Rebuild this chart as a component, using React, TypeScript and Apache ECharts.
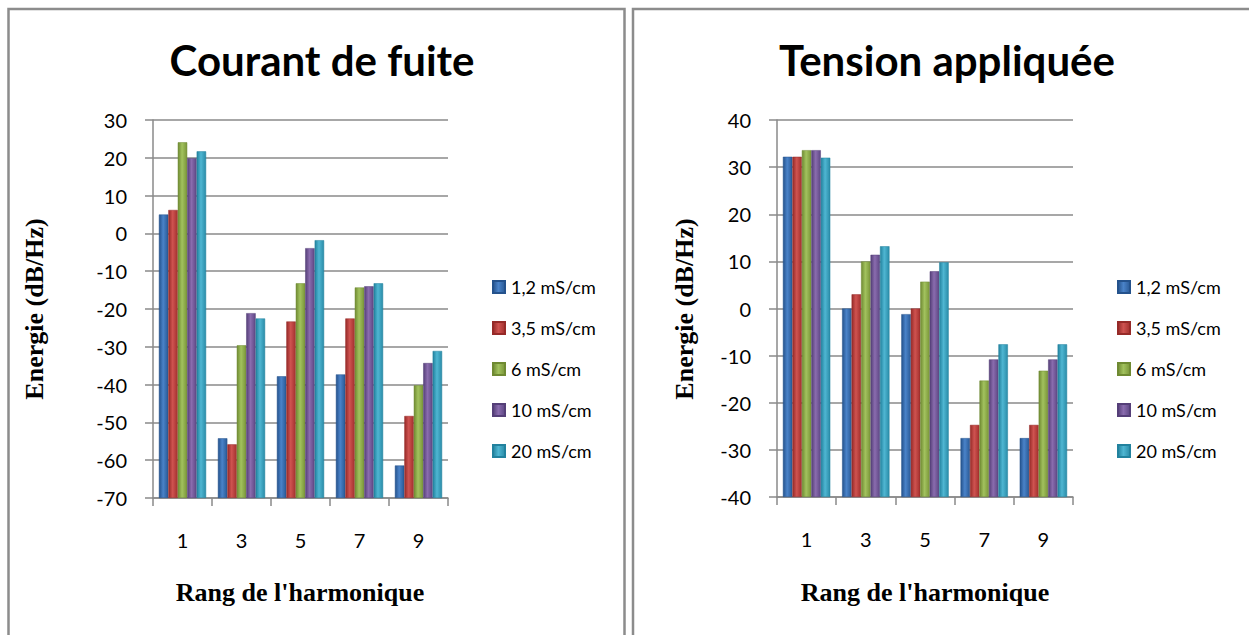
import React, { useEffect, useRef } from "react";
import * as echarts from "echarts";

const categories = ["1", "3", "5", "7", "9"];
const seriesNames = ["1,2 mS/cm", "3,5 mS/cm", "6 mS/cm", "10 mS/cm", "20 mS/cm"];

const fuite12 = [5, -54.2, -37.8, -37.3, -61.4];
const fuite35 = [6.2, -55.8, -23.3, -22.5, -48.3];
const fuite6 = [24.1, -29.6, -13.2, -14.3, -40.2];
const fuite10 = [19.9, -21.1, -3.9, -14.0, -34.3];
const fuite20 = [21.7, -22.5, -1.8, -13.2, -31.1];

const tension12 = [32.2, 0, -1.2, -27.5, -27.5];
const tension35 = [32.2, 3.0, 0, -24.7, -24.7];
const tension6 = [33.6, 10, 5.7, -15.3, -13.2];
const tension10 = [33.6, 11.4, 7.9, -10.8, -10.8];
const tension20 = [32.0, 13.2, 9.8, -7.6, -7.6];

const fuiteSeries = [fuite12, fuite35, fuite6, fuite10, fuite20];
const tensionSeries = [tension12, tension35, tension6, tension10, tension20];

const palette = [
  ["#24528c", "#4a83c9", "#2a5a96"],
  ["#962a28", "#cf5350", "#a3302e"],
  ["#6f8a32", "#a2c25e", "#7a9639"],
  ["#553f78", "#8a6cae", "#5e4784"],
  ["#22829e", "#4fb6d2", "#2a8ca8"],
];

const grad = (c: string[]) =>
  new echarts.graphic.LinearGradient(0, 0, 1, 0, [
    { offset: 0, color: c[0] },
    { offset: 0.45, color: c[1] },
    { offset: 1, color: c[2] },
  ]);

export default function App() {
  const ref = useRef<HTMLDivElement>(null);
  useEffect(() => {
    if (!ref.current) return;
    const chart = echarts.init(ref.current, null, { renderer: "svg" });
    const gridLine = "#8a8a8a";
    const lato = "Lato";
    const serif = '"Liberation Serif", "Times New Roman", serif';

    const mkY = (min: number, max: number, gridIndex: number) => ({
      type: "value",
      gridIndex,
      min,
      max,
      interval: 10,
      startValue: min,
      axisLine: { show: true, lineStyle: { color: gridLine, width: 1.5 } },
      axisTick: { show: true, length: 8, inside: false, lineStyle: { color: gridLine, width: 1.5 } },
      splitLine: { show: true, lineStyle: { color: gridLine, width: 1.5 } },
      axisLabel: { color: "#000", fontFamily: lato, fontSize: 20, margin: 26 },
    });
    const mkX = (gridIndex: number) => ({
      type: "category",
      gridIndex,
      data: categories,
      boundaryGap: true,
      axisLine: { show: true, onZero: false, lineStyle: { color: gridLine, width: 1.5 } },
      axisTick: { show: true, length: 8, alignWithLabel: false, lineStyle: { color: gridLine, width: 1.5 } },
      axisLabel: { color: "#000", fontFamily: lato, fontSize: 20, margin: 32 },
    });

    const series: any[] = [];
    fuiteSeries.forEach((d, i) =>
      series.push({
        type: "bar",
        name: seriesNames[i],
        xAxisIndex: 0,
        yAxisIndex: 0,
        data: d,
        barGap: "0%",
        barCategoryGap: "20%",
        itemStyle: { color: grad(palette[i]), borderColor: palette[i][0], borderWidth: 0.5 },
      })
    );
    tensionSeries.forEach((d, i) =>
      series.push({
        type: "bar",
        name: seriesNames[i],
        xAxisIndex: 1,
        yAxisIndex: 1,
        data: d,
        barGap: "0%",
        barCategoryGap: "20%",
        itemStyle: { color: grad(palette[i]), borderColor: palette[i][0], borderWidth: 0.5 },
      })
    );

    const legendBase = {
      orient: "vertical",
      top: 273,
      itemWidth: 12,
      itemHeight: 12,
      itemGap: 23,
      icon: "rect",
      data: seriesNames,
      textStyle: { fontFamily: lato, fontSize: 18, color: "#000", lineHeight: 18, padding: [0, 0, 0, 1] },
      selectedMode: false,
    };

    chart.setOption({
      animation: false,
      backgroundColor: "#fff",
      title: [
        {
          text: "Courant de fuite",
          left: 317,
          top: 34,
          textAlign: "center",
          textStyle: { fontFamily: lato, fontWeight: "bold", fontSize: 42, color: "#000" },
        },
        {
          text: "Tension appliquée",
          left: 942,
          top: 34,
          textAlign: "center",
          textStyle: { fontFamily: lato, fontWeight: "bold", fontSize: 42, color: "#000" },
        },
      ],
      legend: [
        { ...legendBase, left: 487 },
        { ...legendBase, left: 1112 },
      ],
      grid: [
        { left: 153, top: 120, width: 295, height: 378 },
        { left: 777, top: 120, width: 296, height: 377 },
      ],
      xAxis: [mkX(0), mkX(1)],
      yAxis: [mkY(-70, 30, 0), mkY(-40, 40, 1)],
      series,
      graphic: [
        {
          type: "rect",
          shape: { x: 8.5, y: 9, width: 616, height: 700 },
          style: { fill: "none", stroke: "#8c8c8c", lineWidth: 2.5 },
          silent: true,
          z: 100,
        },
        {
          type: "rect",
          shape: { x: 633, y: 9, width: 700, height: 700 },
          style: { fill: "none", stroke: "#8c8c8c", lineWidth: 2.5 },
          silent: true,
          z: 100,
        },
        {
          type: "text",
          x: 34,
          y: 309,
          rotation: Math.PI / 2,
          style: {
            text: "Energie (dB/Hz)",
            font: `bold 26px ${serif}`,
            textAlign: "center",
            textVerticalAlign: "middle",
            fill: "#000",
          },
        },
        {
          type: "text",
          x: 684,
          y: 309,
          rotation: Math.PI / 2,
          style: {
            text: "Energie (dB/Hz)",
            font: `bold 26px ${serif}`,
            textAlign: "center",
            textVerticalAlign: "middle",
            fill: "#000",
          },
        },
        {
          type: "text",
          x: 300,
          y: 592,
          style: {
            text: "Rang de l'harmonique",
            font: `bold 26px ${serif}`,
            textAlign: "center",
            textVerticalAlign: "middle",
            fill: "#000",
          },
        },
        {
          type: "text",
          x: 925,
          y: 592,
          style: {
            text: "Rang de l'harmonique",
            font: `bold 26px ${serif}`,
            textAlign: "center",
            textVerticalAlign: "middle",
            fill: "#000",
          },
        },
      ],
    });
    return () => chart.dispose();
  }, []);
  return (
    <div
      ref={ref}
      style={{ position: "absolute", left: 0, top: 0, width: 1249, height: 635 }}
    />
  );
}
